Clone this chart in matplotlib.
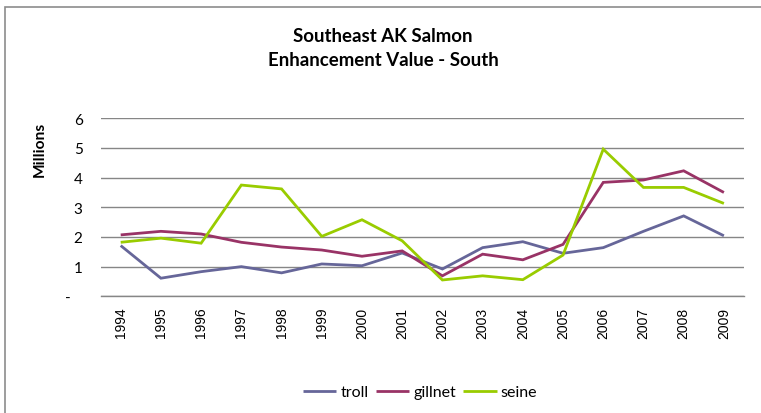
import matplotlib
matplotlib.use("Agg")
import matplotlib.pyplot as plt
import matplotlib.transforms as mtransforms
from matplotlib.patches import Rectangle

# data (millions)
years = [1994, 1995, 1996, 1997, 1998, 1999, 2000, 2001,
         2002, 2003, 2004, 2005, 2006, 2007, 2008, 2009]
troll = [1.71, 0.61, 0.83, 1.00, 0.79, 1.09, 1.03, 1.46,
         0.92, 1.64, 1.84, 1.45, 1.64, 2.19, 2.71, 2.04]
gillnet = [2.07, 2.19, 2.10, 1.82, 1.66, 1.56, 1.35, 1.53,
           0.69, 1.42, 1.23, 1.75, 3.84, 3.92, 4.23, 3.50]
seine = [1.82, 1.96, 1.79, 3.75, 3.62, 2.02, 2.58, 1.87,
         0.55, 0.69, 0.56, 1.39, 4.96, 3.67, 3.67, 3.13]
series_names = ["troll", "gillnet", "seine"]
series_colors = ["#666699", "#993366", "#99CC00"]
y_ticks = [0, 1, 2, 3, 4, 5, 6]
y_tick_labels = ["-", "1", "2", "3", "4", "5", "6"]

W, H = 761, 414
fig = plt.figure(figsize=(W / 100, H / 100), dpi=100)
fig.patch.set_facecolor("white")

# chart area border (runs off the right and bottom edges)
fig.patches.append(Rectangle((4.5 / W, -0.1), 1.2, 1 - 8 / H + 0.1,
                             transform=fig.transFigure, fill=False,
                             edgecolor="#8c8c8c", linewidth=1.2))

ax = fig.add_axes([100.6 / W, 1 - 297.3 / H, 643.4 / W, 178 / H])
x = list(range(len(years)))
for vals, name, col in zip([troll, gillnet, seine], series_names, series_colors):
    ax.plot(x, vals, color=col, linewidth=2.0, label=name,
            solid_joinstyle="miter", solid_capstyle="butt")

ax.set_xlim(-0.5, len(years) - 0.5)
ax.set_ylim(0, 6)
ax.set_yticks(y_ticks)
ax.set_yticklabels(y_tick_labels, fontfamily="Lato", fontsize=11)
ax.set_xticks(x)
ax.set_xticklabels([str(y) for y in years], rotation=90,
                   fontfamily="Liberation Sans", fontsize=10)
ax.tick_params(axis="x", length=0, pad=7.5)
ax.tick_params(axis="y", length=0, pad=13)

for s in ["top", "right", "left"]:
    ax.spines[s].set_visible(False)
ax.spines["bottom"].set_color("#868686")
ax.spines["bottom"].set_linewidth(1.0)
ax.yaxis.grid(True, color="#868686", linewidth=1.0)
ax.set_axisbelow(True)

# zero label sits further left, like the accounting format
zlab = ax.yaxis.get_major_ticks()[0].label1
zlab.set_transform(zlab.get_transform() +
                   mtransforms.ScaledTranslation(-12 / 100, 0, fig.dpi_scale_trans))

fig.text(383 / W, 1 - 37 / H, "Southeast AK Salmon", ha="center", va="center",
         fontfamily="Lato", fontweight="bold", fontsize=13.4)
fig.text(383 / W, 1 - 61 / H, "Enhancement Value - South", ha="center", va="center",
         fontfamily="Lato", fontweight="bold", fontsize=13.4)
fig.text(40 / W, 1 - 149 / H, "Millions", rotation=90, ha="center", va="center",
         fontfamily="Lato", fontweight="bold", fontsize=11.2)

fig.legend(loc="center", bbox_to_anchor=(420 / W, 1 - 393 / H), ncol=3,
           frameon=False, prop={"family": "Lato", "size": 11.5},
           handlelength=2.1, handletextpad=0.25, columnspacing=0.45)

fig.savefig("out.png", dpi=100, facecolor="white")
